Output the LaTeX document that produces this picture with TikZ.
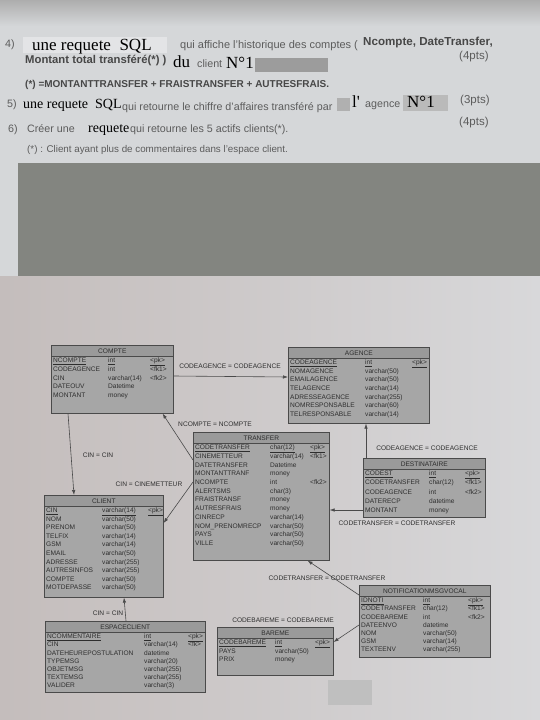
\documentclass[tikz,border=0pt]{standalone}
\usepackage{fontspec}
\setmainfont{Liberation Sans}
\newfontfamily\timesfont{Liberation Serif}
\usetikzlibrary{positioning, arrows.meta, shapes}

\definecolor{paper}{HTML}{D5D7D9}
\definecolor{paperlow}{HTML}{C4BDBC}
\definecolor{paperright}{HTML}{D8D8DA}
\definecolor{blockgray}{HTML}{838580}
\definecolor{qgray}{HTML}{5C5C5C}
\definecolor{qdark}{HTML}{474747}
\definecolor{smudge}{HTML}{9C9C9C}
\definecolor{boxgray}{HTML}{A6A6A6}
\definecolor{headgray}{HTML}{9A9A9A}
\definecolor{boxline}{HTML}{4A4A4A}
\definecolor{tabtext}{HTML}{2E2E2E}

% rows of one table: name, type offset, key offset, row step, rows
\newcommand{\tablerows}[5]{%
  \foreach \col/\typ/\key [count=\i from 0] in {#5} {
    \node[rowtext] (#1-c\i) at ([shift={(2,16+#4*\i)}]#1.north west) {\col};
    \node[rowtext] (#1-t\i) at ([shift={(#2,16+#4*\i)}]#1.north west) {\typ};
    \node[rowtext] (#1-k\i) at ([shift={(#3,16+#4*\i)}]#1.north west) {\key};
  }}

\begin{document}
\begin{tikzpicture}[x=1pt, y=-1pt,
    qtext/.style={anchor=base west, inner sep=0pt, text=qgray, font=\fontsize{10.7}{12}\selectfont},
    qbold/.style={anchor=base west, inner sep=0pt, text=qdark, font=\bfseries\fontsize{11}{12}\selectfont},
    hand/.style={anchor=base west, inner sep=0pt, text=black, font=\timesfont\fontsize{17}{18}\selectfont},
    tablebox/.style={anchor=north west, draw=boxline, fill=boxgray, line width=0.6pt, inner sep=0pt},
    tablehead/.style={anchor=north west, draw=boxline, fill=headgray, line width=0.6pt, inner sep=0pt,
      minimum height=11pt, text=tabtext, font=\fontsize{6.6}{7}\selectfont},
    rowtext/.style={anchor=west, inner sep=0pt, text height=5pt, text depth=1.6pt,
      text=tabtext, font=\fontsize{6.6}{7}\selectfont},
    rellabel/.style={inner sep=0pt, text=tabtext, font=\fontsize{6.6}{7}\selectfont},
    fk/.style={draw=boxline, line width=0.6pt, -{Latex[length=5pt,width=3.5pt]}}]
    \useasboundingbox (0,0) rectangle (540,720);

    % Draw paper and masked block
    \fill[paper] (0,0) rectangle (540,276);
    \shade[top color=black!32, bottom color=paper] (0,0) rectangle (540,26);
    \shade[left color=paperlow, right color=paperright] (0,276) rectangle (540,720);
    \fill[white, opacity=0.35] (23,37) rectangle (167,53);
    \fill[blockgray] (18,163) rectangle (540,276);
    \fill[black!25] (328,680) rectangle (372,705);

    % Draw questions
    \node[qtext] (q4) at (5,47) {4)};
    \node[hand] (q4-sql) at (32,50) {une requete\ \ SQL};
    \node[qtext, font=\fontsize{11}{12}\selectfont] (q4-txt) at (180,48) {qui affiche l'historique des comptes (};
    \node[qbold, font=\bfseries\fontsize{11.6}{13}\selectfont] (q4-cols) at (363,45) {Ncompte, DateTransfer,};
    \node[qbold, font=\bfseries\fontsize{11.3}{12}\selectfont] (q4-tot) at (25,63) {Montant total transféré(*) )};
    \node[hand] (q4-du) at (173,67) {du};
    \node[qtext] (q4-cl) at (197,67) {client};
    \node[hand] (q4-n) at (226,68) {N°1};
    \fill[smudge] (255,58) rectangle (328,72);
    \node[qtext, font=\fontsize{11.5}{12}\selectfont] (q4-pts) at (459,59) {(4pts)};
    \node[qbold, font=\bfseries\fontsize{10}{12}\selectfont] (q4-def) at (25,87) {(*) =MONTANTTRANSFER + FRAISTRANSFER + AUTRESFRAIS.};

    \node[qtext] (q5) at (7,107) {5)};
    \node[hand, font=\timesfont\fontsize{14}{15}\selectfont] (q5-sql) at (23,108) {une requete\ \ SQL};
    \node[qtext] (q5-txt) at (122,110) {qui retourne le chiffre d'affaires transféré par};
    \fill[smudge!80] (337,98) rectangle (350,111);
    \node[hand] (q5-l) at (352,107) {l'};
    \node[qtext] (q5-ag) at (365,107) {agence};
    \fill[smudge!70] (403,95) rectangle (448,111);
    \node[hand] (q5-n) at (407,107) {N°1};
    \node[qtext, font=\fontsize{11.5}{12}\selectfont] (q5-pts) at (460,103) {(3pts)};

    \node[qtext] (q6) at (8,132) {6)};
    \node[qtext] (q6-cr) at (27,132) {Créer une};
    \node[hand, font=\timesfont\fontsize{14}{15}\selectfont] (q6-req) at (88,132) {requete};
    \node[qtext] (q6-txt) at (130,132) {qui retourne les 5 actifs clients(*).};
    \node[qtext, font=\fontsize{11.5}{12}\selectfont] (q6-pts) at (459,125) {(4pts)};
    \node[qtext, font=\fontsize{9.8}{12}\selectfont] (q6-def) at (27,152) {(*) : Client ayant plus de commentaires dans l'espace client.};

    % Draw tables
    \node[tablebox, minimum width=122pt, minimum height=68pt] (compte) at (51,345) {};
    \node[tablehead, minimum width=122pt] (compte-head) at (compte.north west) {COMPTE};
    \tablerows{compte}{57}{99}{8.7}{\underline{NCOMPTE}/\underline{int}/\underline{<pk>}, CODEAGENCE/int/<fk1>,
      CIN/varchar(14)/<fk2>, DATEOUV/Datetime/{}, MONTANT/money/{}}

    \node[tablebox, minimum width=141pt, minimum height=76pt] (agence) at (288,347) {};
    \node[tablehead, minimum width=141pt] (agence-head) at (agence.north west) {AGENCE};
    \tablerows{agence}{77}{124}{8.6}{\underline{CODEAGENCE}/\underline{int}/\underline{<pk>}, NOMAGENCE/varchar(50)/{},
      EMAILAGENCE/varchar(50)/{}, TELAGENCE/varchar(14)/{}, ADRESSEAGENCE/varchar(255)/{},
      NOMRESPONSABLE/varchar(60)/{}, TELRESPONSABLE/varchar(14)/{}}

    \node[tablebox, minimum width=136pt, minimum height=128pt] (transfer) at (193,432) {};
    \node[tablehead, minimum width=136pt] (transfer-head) at (transfer.north west) {TRANSFER};
    \tablerows{transfer}{77}{117}{8.7}{\underline{CODETRANSFER}/\underline{char(12)}/\underline{<pk>}, CINEMETTEUR/varchar(14)/<fk1>,
      DATETRANSFER/Datetime/{}, MONTANTTRANF/money/{}, NCOMPTE/int/<fk2>, ALERTSMS/char(3)/{},
      FRAISTRANSF/money/{}, AUTRESFRAIS/money/{}, CINRECP/varchar(14)/{}, NOM\_PRENOMRECP/varchar(50)/{},
      PAYS/varchar(50)/{}, VILLE/varchar(50)/{}}

    \node[tablebox, minimum width=119pt, minimum height=102pt] (client) at (44,495) {};
    \node[tablehead, minimum width=119pt] (client-head) at (client.north west) {CLIENT};
    \tablerows{client}{58}{104}{8.55}{\underline{CIN}/\underline{varchar(14)}/\underline{<pk>}, NOM/varchar(50)/{},
      PRENOM/varchar(50)/{}, TELFIX/varchar(14)/{}, GSM/varchar(14)/{}, EMAIL/varchar(50)/{},
      ADRESSE/varchar(255)/{}, AUTRESINFOS/varchar(255)/{}, COMPTE/varchar(50)/{}, MOTDEPASSE/varchar(50)/{}}

    \node[tablebox, minimum width=122pt, minimum height=59pt] (dest) at (363,458) {};
    \node[tablehead, minimum width=122pt] (dest-head) at (dest.north west) {DESTINATAIRE};
    \tablerows{dest}{66}{102}{9.2}{\underline{CODEST}/\underline{int}/\underline{<pk>}, CODETRANSFER/char(12)/<fk1>,
      CODEAGENCE/int/<fk2>, DATERECP/datetime/{}, MONTANT/money/{}}

    \node[tablebox, minimum width=131pt, minimum height=72pt] (notif) at (359,585) {};
    \node[tablehead, minimum width=131pt] (notif-head) at (notif.north west) {NOTIFICATIONMSGVOCAL};
    \tablerows{notif}{64}{109}{8.2}{\underline{IDNOTI}/\underline{int}/\underline{<pk>}, CODETRANSFER/char(12)/<fk1>,
      CODEBAREME/int/<fk2>, DATEENVO/datetime/{}, NOM/varchar(50)/{}, GSM/varchar(14)/{}, TEXTEENV/varchar(255)/{}}

    \node[tablebox, minimum width=160pt, minimum height=71pt] (espace) at (45,621) {};
    \node[tablehead, minimum width=160pt] (espace-head) at (espace.north west) {ESPACECLIENT};
    \tablerows{espace}{99}{143}{8.2}{\underline{NCOMMENTAIRE}/\underline{int}/\underline{<pk>}, CIN/varchar(14)/<fk>,
      DATEHEUREPOSTULATION/datetime/{}, TYPEMSG/varchar(20)/{}, OBJETMSG/varchar(255)/{},
      TEXTEMSG/varchar(255)/{}, VALIDER/varchar(3)/{}}

    \node[tablebox, minimum width=116pt, minimum height=48pt] (bareme) at (217,627) {};
    \node[tablehead, minimum width=116pt] (bareme-head) at (bareme.north west) {BAREME};
    \tablerows{bareme}{58}{98}{8.5}{\underline{CODEBAREME}/\underline{int}/\underline{<pk>}, PAYS/varchar(50)/{}, PRIX/money/{}}

    % Draw references
    \draw[fk] ([shift={(0,31)}]compte.north east) -- ([shift={(0,30)}]agence.north west);
    \draw[fk] ([shift={(0,28)}]transfer.north west) -- ([shift={(-11,0)}]compte.south east);
    \draw[fk] ([shift={(17,0)}]compte.south west) -- ([shift={(30,0)}]client.north west);
    \draw[fk] ([shift={(0,50)}]transfer.north west) -- ([shift={(0,28)}]client.north east);
    \draw[fk] ([shift={(0,52)}]dest.north west) -- ([shift={(0,78)}]transfer.north east);
    \draw[fk] ([shift={(3,0)}]dest.north west) -- ([shift={(78,0)}]agence.south west);
    \draw[fk] ([shift={(0,10)}]notif.north west) -- ([shift={(-22,0)}]transfer.south east);
    \draw[fk] ([shift={(0,40)}]notif.north west) -- ([shift={(0,15)}]bareme.north east);
    \draw[fk] ([shift={(81,0)}]espace.north west) -- ([shift={(80,0)}]client.south west);

    \node[rellabel] (l-agence) at (230,366) {CODEAGENCE = CODEAGENCE};
    \node[rellabel] (l-ncompte) at (215,424) {NCOMPTE = NCOMPTE};
    \node[rellabel] (l-cin) at (98,455) {CIN = CIN};
    \node[rellabel] (l-emetteur) at (149,484) {CIN = CINEMETTEUR};
    \node[rellabel] (l-dest) at (397,523) {CODETRANSFER = CODETRANSFER};
    \node[rellabel] (l-destag) at (427,448) {CODEAGENCE = CODEAGENCE};
    \node[rellabel] (l-notif) at (327,578) {CODETRANSFER = CODETRANSFER};
    \node[rellabel] (l-bareme) at (283,620) {CODEBAREME = CODEBAREME};
    \node[rellabel] (l-espace) at (108,613) {CIN = CIN};
\end{tikzpicture}
\end{document}
